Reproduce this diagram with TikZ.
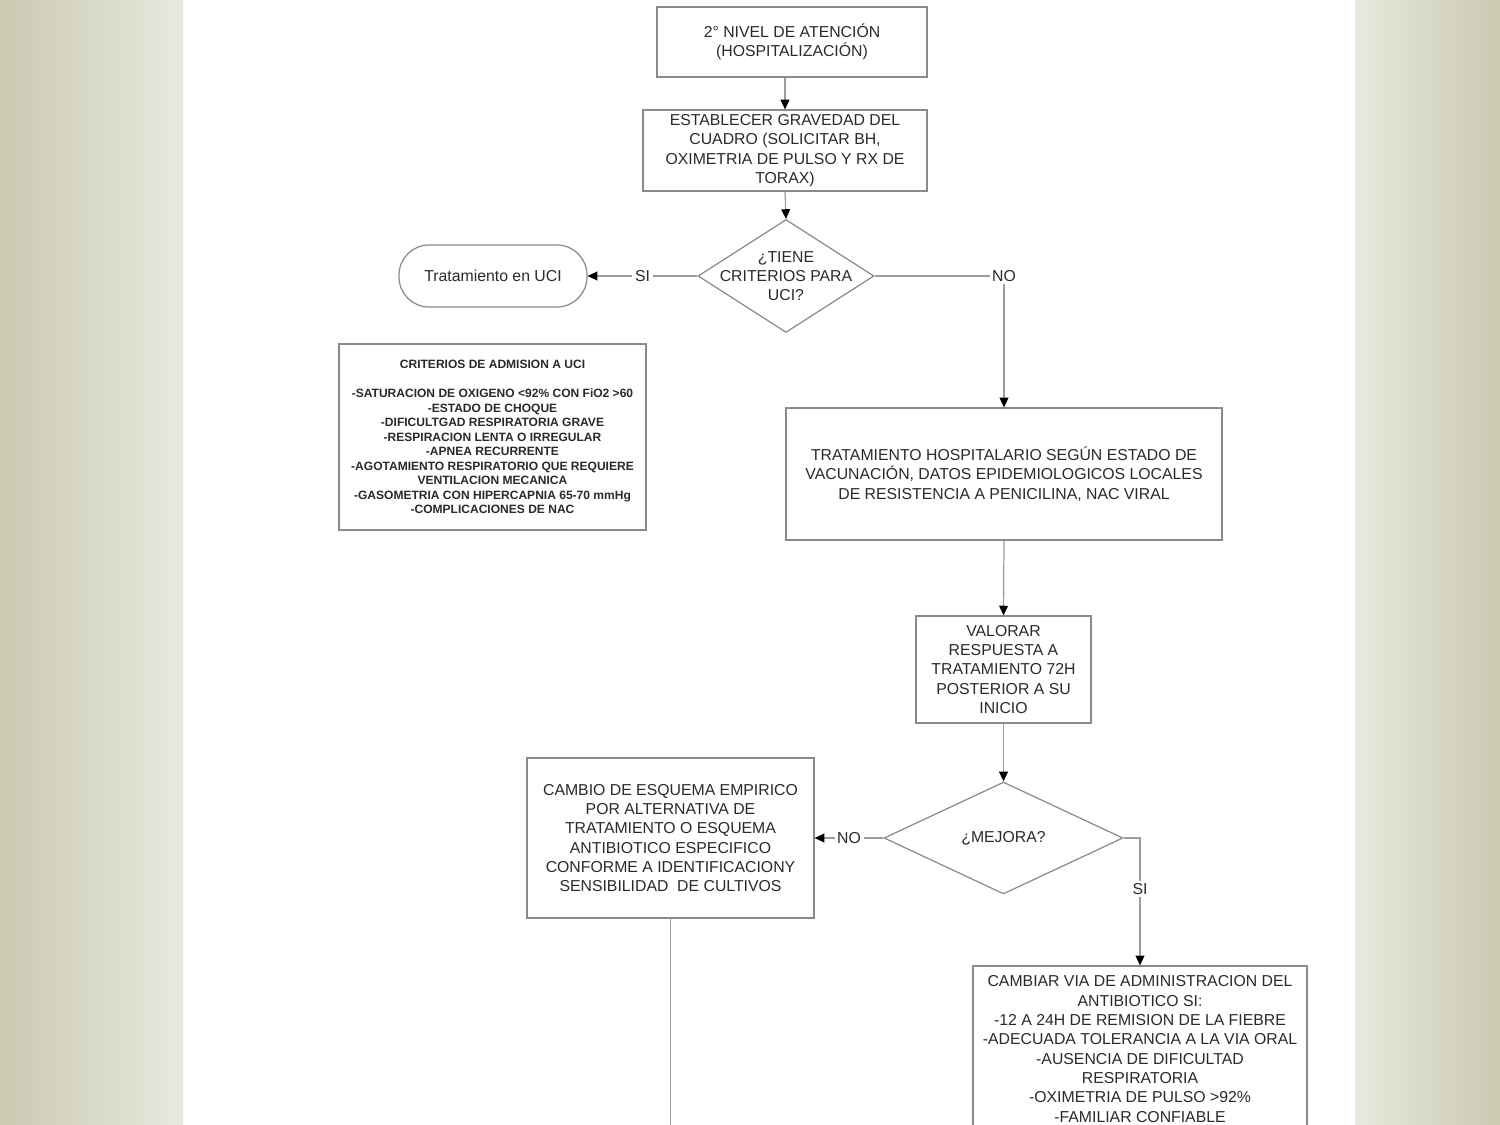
\documentclass[tikz,border=0pt]{standalone}
\usepackage{fontspec}
\setmainfont{Liberation Sans}
\usetikzlibrary{shapes.geometric,arrows.meta}
\definecolor{box-line}{HTML}{8A8A8A}
\definecolor{link-line}{HTML}{9C9C9C}
\definecolor{side-dark}{HTML}{CACAB2}
\definecolor{side-light}{HTML}{E8E8DE}
\definecolor{text-gray}{HTML}{2A2A2A}

\begin{document}
\begin{tikzpicture}[x=0.02cm, y=-0.02cm,
        every node/.style={font=\fontsize{9}{11}\selectfont, text=text-gray},
        stepbox/.style={draw=box-line, line width=0.7pt, fill=white,
            align=center, inner sep=2pt},
        decision/.style={draw=box-line, line width=0.7pt, fill=white,
            diamond, inner sep=0pt},
        link/.style={draw=link-line, line width=0.7pt},
        arr/.style={link, -{Triangle[length=5.5pt, width=5pt, color=black]}},
        lbl/.style={fill=white, inner sep=1.5pt}]
      \useasboundingbox (0,0) rectangle (1500,1125);
      \clip (0,0) rectangle (1500,1125);
      % side bands of the slide
      \shade[left color=side-dark, right color=side-light] (0,0) rectangle (183,1125);
      \shade[left color=side-light, right color=side-dark] (1355,0) rectangle (1500,1125);

      \node[stepbox, minimum width=5.4cm, minimum height=1.4cm]
            (nivel) at (792,42) {2° NIVEL DE ATENCIÓN\\(HOSPITALIZACIÓN)};
      \node[stepbox, minimum width=5.68cm, minimum height=1.62cm]
            (gravedad) at (785,150.5) {ESTABLECER GRAVEDAD DEL\\CUADRO (SOLICITAR BH,\\OXIMETRIA DE PULSO Y RX DE\\TORAX)};
      \node[decision, minimum width=3.52cm, minimum height=2.26cm,
            label={[align=center]center:{¿TIENE\\CRITERIOS PARA\\UCI?}}]
            (criterios) at (786,276) {};
      \node[draw=box-line, line width=0.7pt, fill=white, rounded corners=0.6cm,
            minimum width=3.76cm, minimum height=1.24cm]
            (uci) at (493,276) {Tratamiento en UCI};
      \node[stepbox, minimum width=6.14cm, minimum height=3.72cm,
            font=\fontsize{6.85}{8.25}\selectfont\bfseries]
            (admision) at (492.5,437) {CRITERIOS DE ADMISION A UCI\\[8.25pt]
            -SATURACION DE OXIGENO <92\% CON FiO2 >60\\-ESTADO DE CHOQUE\\
            -DIFICULTGAD RESPIRATORIA GRAVE\\-RESPIRACION LENTA O IRREGULAR\\
            -APNEA RECURRENTE\\-AGOTAMIENTO RESPIRATORIO QUE REQUIERE\\
            VENTILACION MECANICA\\-GASOMETRIA CON HIPERCAPNIA 65-70 mmHg\\
            -COMPLICACIONES DE NAC};
      \node[stepbox, minimum width=8.72cm, minimum height=2.64cm]
            (hospital) at (1004,474) {TRATAMIENTO HOSPITALARIO SEGÚN ESTADO DE\\
            VACUNACIÓN, DATOS EPIDEMIOLOGICOS LOCALES\\DE RESISTENCIA A PENICILINA, NAC VIRAL};
      \node[stepbox, minimum width=3.5cm, minimum height=2.14cm]
            (valorar) at (1003.5,669.5) {VALORAR\\RESPUESTA A\\TRATAMIENTO 72H\\POSTERIOR A SU\\INICIO};
      \node[decision, minimum width=4.78cm, minimum height=2.24cm,
            label={center:¿MEJORA?}]
            (mejora) at (1003.5,838) {};
      \node[stepbox, minimum width=5.74cm, minimum height=3.2cm]
            (cambio) at (670.5,838) {CAMBIO DE ESQUEMA EMPIRICO\\POR ALTERNATIVA DE\\
            TRATAMIENTO O ESQUEMA\\ANTIBIOTICO ESPECIFICO\\CONFORME A IDENTIFICACIONY\\
            SENSIBILIDAD\ \ DE CULTIVOS};
      \node[stepbox, minimum width=6.68cm, minimum height=3.32cm]
            (via) at (1140,1049) {CAMBIAR VIA DE ADMINISTRACION DEL\\ANTIBIOTICO SI:\\
            -12 A 24H DE REMISION DE LA FIEBRE\\-ADECUADA TOLERANCIA A LA VIA ORAL\\
            -AUSENCIA DE DIFICULTAD\\RESPIRATORIA\\-OXIMETRIA DE PULSO >92\%\\
            -FAMILIAR CONFIABLE};
      \coordinate (sigue) at (670.5,1140);

      \draw[arr] (nivel.south -| gravedad.north) -- (gravedad.north);
      \draw[arr] (gravedad.south) -- (criterios.north);
      \draw[arr] (criterios.west) -- node[lbl] {SI} (uci.east);
      \draw[arr] (criterios.east) -| node[lbl] {NO} (hospital.north);
      \draw[arr] (hospital.south) -- (valorar.north);
      \draw[arr] (valorar.south) -- (mejora.north);
      \draw[arr] (mejora.west) -- node[lbl] {NO} (cambio.east);
      \draw[arr] (mejora.east) -| node[lbl, pos=0.7] {SI} (via.north);
      \draw[link] (cambio.south) -- (sigue);
    \end{tikzpicture}
\end{document}
